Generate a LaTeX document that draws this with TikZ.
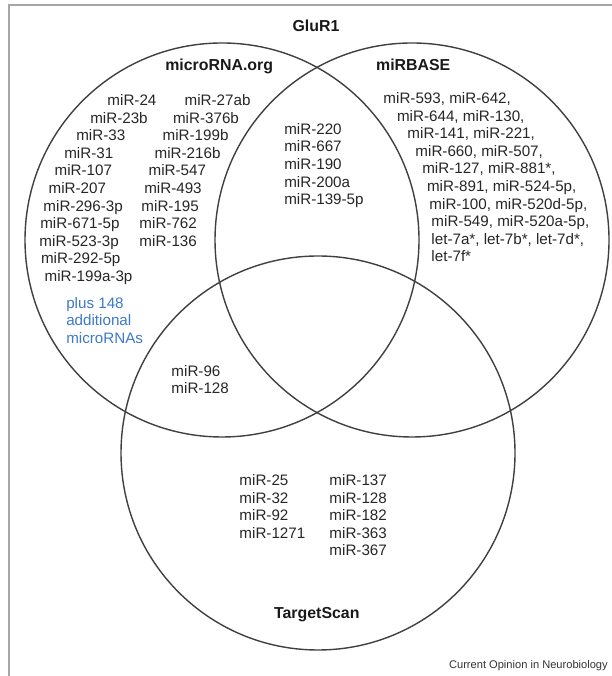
\documentclass[tikz,border=0pt]{standalone}
\usepackage{fontspec}
\setmainfont{Liberation Sans}
\definecolor{plusblue}{RGB}{62,122,200}
\tikzset{
  venn/.style={draw=black!75, line width=1pt, circle, minimum size=9.85cm, inner sep=0pt},
  mir/.style={anchor=base west, inner sep=0pt, text=black!85, font=\fontsize{10.8}{12.5}\selectfont},
  settitle/.style={anchor=base, inner sep=0pt, text=black!90, font=\fontsize{11.3}{13}\selectfont\bfseries},
  extra/.style={mir, text=plusblue}
}
\begin{document}
\begin{tikzpicture}
\useasboundingbox (0,0) rectangle (15.275,16.9);
\draw[black!35, line width=1.4pt] (0.225,-1) rectangle (16,16.775);

% the three sets
\node[venn] (org) at (5.55,10.9) {};
\node[venn] (base) at (10.3,10.9) {};
\node[venn] (scan) at (7.95,5.575) {};

\node[settitle] (glur) at (7.9,16.11) {GluR1};
\node[settitle] (orgtitle) at (5.48,15.13) {microRNA.org};
\node[settitle] (basetitle) at (10.33,15.13) {miRBASE};
\node[settitle] (scantitle) at (7.92,1.43) {TargetScan};

% microRNA.org only
\node[mir] (orgl1) at (2.68,14.26) {miR-24};
\node[mir] (orgl2) at (2.25,13.82) {miR-23b};
\node[mir] (orgl3) at (1.90,13.38) {miR-33};
\node[mir] (orgl4) at (1.60,12.94) {miR-31};
\node[mir] (orgl5) at (1.36,12.50) {miR-107};
\node[mir] (orgl6) at (1.21,12.06) {miR-207};
\node[mir] (orgl7) at (1.08,11.62) {miR-296-3p};
\node[mir] (orgl8) at (1.00,11.18) {miR-671-5p};
\node[mir] (orgl9) at (0.98,10.74) {miR-523-3p};
\node[mir] (orgl10) at (1.02,10.30) {miR-292-5p};
\node[mir] (orgl11) at (1.11,9.86) {miR-199a-3p};

\node[mir] (orgr1) at (4.61,14.26) {miR-27ab};
\node[mir] (orgr2) at (4.32,13.82) {miR-376b};
\node[mir] (orgr3) at (4.06,13.38) {miR-199b};
\node[mir] (orgr4) at (3.86,12.94) {miR-216b};
\node[mir] (orgr5) at (3.71,12.50) {miR-547};
\node[mir] (orgr6) at (3.60,12.06) {miR-493};
\node[mir] (orgr7) at (3.53,11.62) {miR-195};
\node[mir] (orgr8) at (3.48,11.18) {miR-762};
\node[mir] (orgr9) at (3.48,10.74) {miR-136};

\node[extra] (plus1) at (1.65,9.19) {plus 148};
\node[extra] (plus2) at (1.65,8.75) {additional};
\node[extra] (plus3) at (1.65,8.31) {microRNAs};

% microRNA.org and miRBASE
\node[mir] (both1) at (7.10,13.54) {miR-220};
\node[mir] (both2) at (7.10,13.10) {miR-667};
\node[mir] (both3) at (7.10,12.66) {miR-190};
\node[mir] (both4) at (7.10,12.22) {miR-200a};
\node[mir] (both5) at (7.10,11.78) {miR-139-5p};

% miRBASE only
\node[mir] (base1) at (9.58,14.31) {miR-593, miR-642,};
\node[mir] (base2) at (9.92,13.87) {miR-644, miR-130,};
\node[mir] (base3) at (10.18,13.43) {miR-141, miR-221,};
\node[mir] (base4) at (10.38,12.99) {miR-660, miR-507,};
\node[mir] (base5) at (10.55,12.55) {miR-127, miR-881*,};
\node[mir] (base6) at (10.67,12.11) {miR-891, miR-524-5p,};
\node[mir] (base7) at (10.73,11.67) {miR-100, miR-520d-5p,};
\node[mir] (base8) at (10.78,11.23) {miR-549, miR-520a-5p,};
\node[mir] (base9) at (10.78,10.79) {let-7a*, let-7b*, let-7d*,};
\node[mir] (base10) at (10.78,10.35) {let-7f*};

% microRNA.org and TargetScan
\node[mir] (orgscan1) at (4.28,7.49) {miR-96};
\node[mir] (orgscan2) at (4.28,7.05) {miR-128};

% TargetScan only
\node[mir] (scanl1) at (5.98,4.76) {miR-25};
\node[mir] (scanl2) at (5.98,4.32) {miR-32};
\node[mir] (scanl3) at (5.98,3.88) {miR-92};
\node[mir] (scanl4) at (5.98,3.44) {miR-1271};
\node[mir] (scanr1) at (8.23,4.76) {miR-137};
\node[mir] (scanr2) at (8.23,4.32) {miR-128};
\node[mir] (scanr3) at (8.23,3.88) {miR-182};
\node[mir] (scanr4) at (8.23,3.44) {miR-363};
\node[mir] (scanr5) at (8.23,3.00) {miR-367};

\node[anchor=base east, inner sep=0pt, text=black!80, font=\fontsize{7.9}{9}\selectfont] (credit) at (15.2,0.175) {Current Opinion in Neurobiology};
\end{tikzpicture}
\end{document}
